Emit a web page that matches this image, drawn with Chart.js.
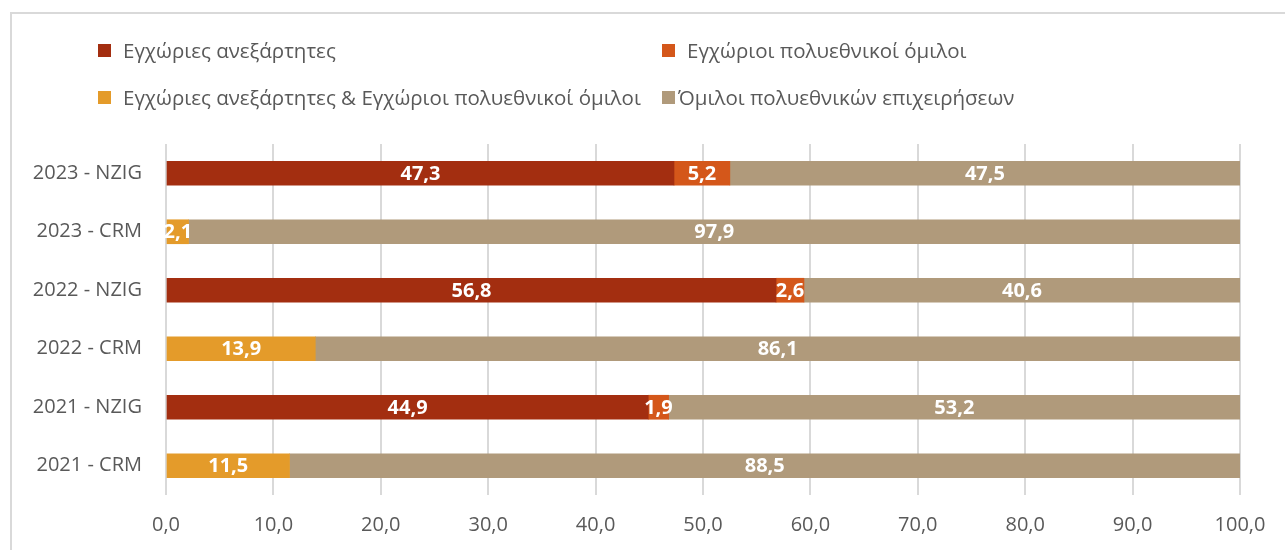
<!DOCTYPE html>
<html>
<head>
<meta charset="utf-8">
<script src="https://cdn.jsdelivr.net/npm/chart.js@4/dist/chart.umd.min.js"></script>
<style>
  html, body { margin:0; padding:0; background:#fff; }
  body { width:1285px; height:550px; position:relative; overflow:hidden; font-family:"Open Sans", sans-serif; }
  #frame { position:absolute; left:10px; top:12px; width:1300px; height:600px; border:2px solid #d9d9d9; box-sizing:border-box; }
  #wrap { position:absolute; left:0; top:0; width:1285px; height:550px; }
  .lg { position:absolute; display:flex; align-items:center; font-size:20.5px; color:#595959; white-space:nowrap; }
  .lg span.sw { display:inline-block; width:13px; height:13px; margin-right:12px; }
</style>
</head>
<body>
<div id="frame"></div>
<div id="wrap"><canvas id="c" width="1285" height="550"></canvas></div>
<div id="legend"></div>
<script>
const categories = ["2023 - NZIG", "2023 - CRM", "2022 - NZIG", "2022 - CRM", "2021 - NZIG", "2021 - CRM"];
const seriesNames = [
  "Εγχώριες ανεξάρτητες",
  "Εγχώριοι πολυεθνικοί όμιλοι",
  "Εγχώριες ανεξάρτητες & Εγχώριοι πολυεθνικοί όμιλοι",
  "Όμιλοι πολυεθνικών επιχειρήσεων"
];
const domesticIndependent = [47.3, null, 56.8, null, 44.9, null];
const domesticMultinational = [5.2, null, 2.6, null, 1.9, null];
const domesticBoth = [null, 2.1, null, 13.9, null, 11.5];
const multinationalGroups = [47.5, 97.9, 40.6, 86.1, 53.2, 88.5];
const xTicks = [0, 10, 20, 30, 40, 50, 60, 70, 80, 90, 100];
const colors = ["#A32E10", "#D4571A", "#E49B2A", "#B09A7B"];

const seriesValues = [domesticIndependent, domesticMultinational, domesticBoth, multinationalGroups];

// legend (HTML)
const legendPos = [[98, 50], [662, 50], [98, 97], [662, 97]];
const legendEl = document.getElementById('legend');
seriesNames.forEach((n, i) => {
  const d = document.createElement('div');
  d.className = 'lg';
  d.style.left = legendPos[i][0] + 'px';
  d.style.top = (legendPos[i][1] - 14) + 'px';
  d.style.height = '28px';
  const sw = document.createElement('span');
  sw.className = 'sw';
  sw.style.background = colors[i];
  if (i === 3) sw.style.marginRight = '3px';
  d.appendChild(sw);
  d.appendChild(document.createTextNode(n));
  legendEl.appendChild(d);
});

const fmt = v => v.toFixed(1).replace('.', ',');

const labelPlugin = {
  id: 'barLabels',
  afterDatasetsDraw(chart) {
    const ctx = chart.ctx;
    ctx.save();
    ctx.fillStyle = '#ffffff';
    ctx.font = 'bold 20px "Open Sans", sans-serif';
    ctx.textAlign = 'center';
    ctx.textBaseline = 'middle';
    chart.data.datasets.forEach((ds, di) => {
      const meta = chart.getDatasetMeta(di);
      meta.data.forEach((el, i) => {
        const v = ds.data[i];
        if (v == null || v === 0) return;
        const p = el.getCenterPoint();
        ctx.fillText(fmt(v), p.x, p.y + 1);
      });
    });
    ctx.restore();
  }
};

new Chart(document.getElementById('c'), {
  type: 'bar',
  data: {
    labels: categories,
    datasets: seriesValues.map((vals, i) => ({
      label: seriesNames[i],
      data: vals,
      backgroundColor: colors[i],
      borderWidth: 0,
      barThickness: 24
    }))
  },
  options: {
    indexAxis: 'y',
    responsive: false,
    animation: false,
    layout: { padding: { top: 144, right: 45, left: 0, bottom: 0 } },
    plugins: { legend: { display: false }, tooltip: { enabled: false } },
    scales: {
      x: {
        stacked: true,
        min: 0, max: 100,
        afterBuildTicks: s => { s.ticks = xTicks.map(v => ({ value: v })); },
        afterFit: s => { s.height = 55; },
        grid: { color: '#d9d9d9', lineWidth: 2, drawTicks: false },
        border: { display: false },
        ticks: { padding: 18, color: '#595959', font: { family: '"Open Sans", sans-serif', size: 20 }, callback: v => fmt(v) }
      },
      y: {
        stacked: true,
        afterFit: s => { s.width = 166; },
        grid: { display: false, drawTicks: false },
        border: { display: false },
        ticks: { padding: 24, color: '#595959', font: { family: '"Open Sans", sans-serif', size: 20 } }
      }
    }
  },
  plugins: [labelPlugin]
});
</script>
</body>
</html>
